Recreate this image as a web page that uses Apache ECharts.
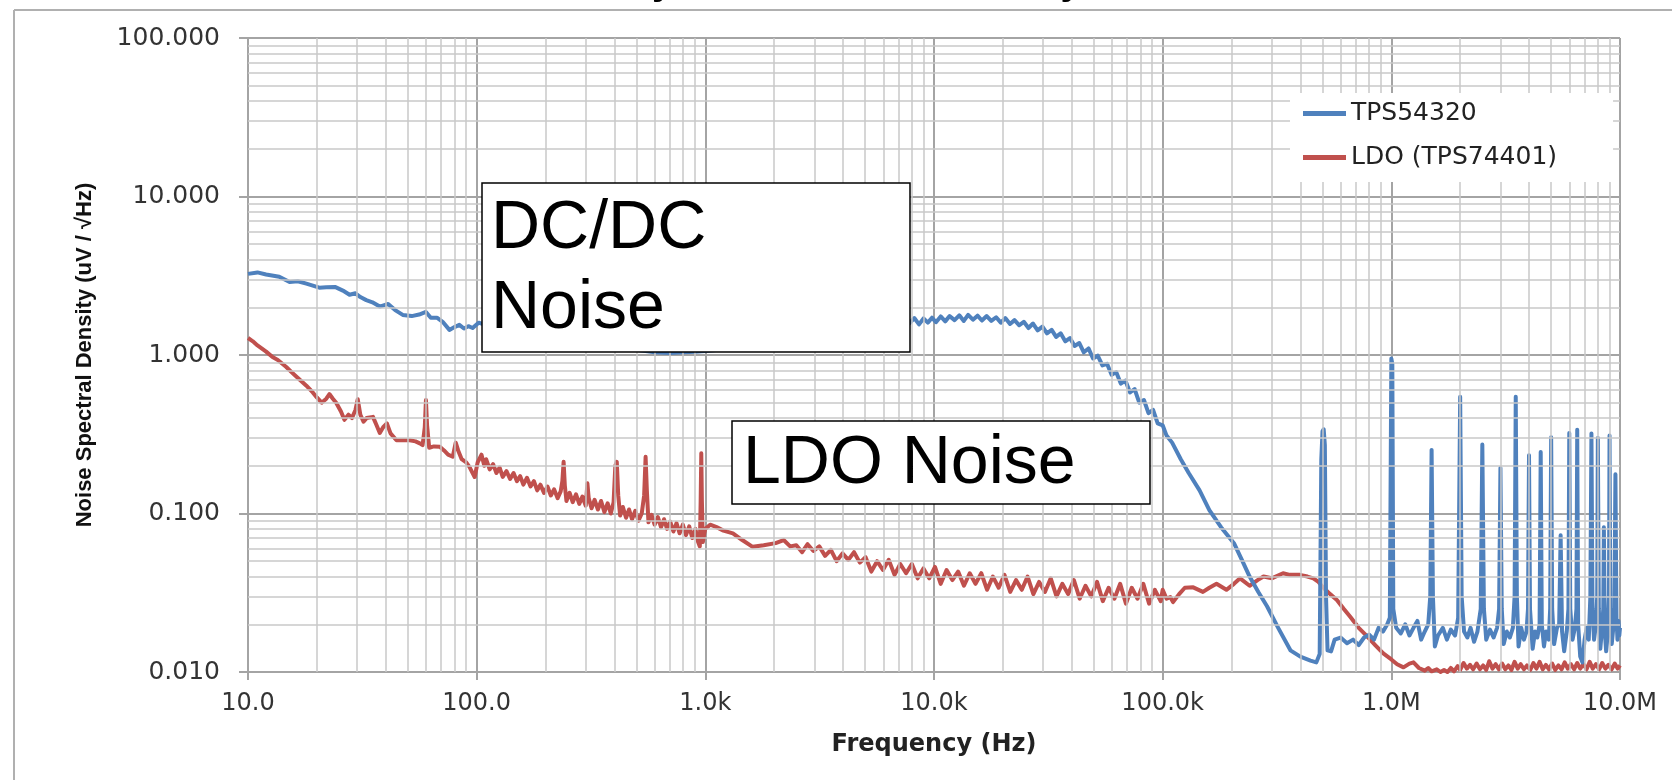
<!DOCTYPE html>
<html>
<head>
<meta charset="utf-8">
<script src="https://cdn.jsdelivr.net/npm/echarts@6.0.0/dist/echarts.min.js"></script>
<style>
html,body{margin:0;padding:0;background:#fff;}
#chart{width:1672px;height:780px;}
</style>
</head>
<body>
<div id="chart"></div>
<script>
// ---------- data ----------
const seriesNames = ['TPS54320', 'LDO (TPS74401)'];

// TPS54320 (DC/DC) noise density: [frequency Hz, uV/sqrt(Hz)]
const tpsPoints = [
[10,3.25],[11,3.32],[12,3.22],[13.7,3.12],[15.2,2.89],[16.5,2.92],[18,2.82],[20.5,2.66],[22,2.68],[24,2.69],
[26,2.55],[27.8,2.40],[29.5,2.45],[31,2.32],[32.9,2.22],[35,2.15],[37.7,2.02],[41,2.10],[44,1.92],[47.5,1.79],
[52,1.76],[56,1.80],[60,1.87],[63,1.72],[67,1.72],[71,1.62],[76,1.44],[80,1.50],[84,1.55],[88,1.47],[92,1.52],
[96,1.48],[102,1.60],[120,1.48],[150,1.40],[200,1.32],[250,1.25],[300,1.20],[400,1.12],[500,1.08],[600,1.04],
[700,1.03],[800,1.04],[900,1.05],[1000,1.06],[1500,1.12],[2000,1.20],[3000,1.32],[4000,1.42],[5000,1.50],
[6000,1.56],[7000,1.60],
[7800,1.58],[8200,1.71],[8600,1.56],[9000,1.70],[9400,1.60],[9800,1.72],[10200,1.61],[10700,1.75],[11200,1.63],
[11700,1.76],[12300,1.66],[12900,1.78],[13500,1.64],[14100,1.79],[14800,1.67],[15500,1.77],[16200,1.65],[17000,1.76],
[17800,1.64],[18700,1.73],[19600,1.60],[20500,1.71],[21500,1.57],[22500,1.66],[23600,1.54],[24700,1.62],[25900,1.48],
[27100,1.58],[28400,1.43],[29800,1.51],[31200,1.37],[32700,1.44],[34200,1.30],[35800,1.37],[37500,1.22],[39300,1.28],
[41200,1.14],[43200,1.19],[45200,1.04],[47400,1.10],[49600,0.95],[52000,0.99],[54500,0.86],[57100,0.88],[59800,0.75],
[62600,0.78],[65600,0.66],[68700,0.69],[72000,0.58],[75400,0.61],[79000,0.50],[82800,0.52],[86700,0.43],[90800,0.45],
[95100,0.37],[100000,0.36],[104000,0.31],[110000,0.28],[120000,0.22],[130000,0.18],[145000,0.14],[160000,0.105],
[180000,0.082],[205000,0.065],[222000,0.051],[240000,0.040],[262000,0.032],[286000,0.026],[320000,0.019],
[362000,0.0137],[400000,0.0125],[443000,0.0118],[470000,0.0115],[486000,0.013],[494000,0.22],[500000,0.33],
[506000,0.34],[512000,0.27],[518000,0.03],[526000,0.0137],[545000,0.0135],[565000,0.016],[600000,0.0165],
[640000,0.0152],[680000,0.016],[720000,0.0148],[760000,0.0165],[800000,0.0172],[840000,0.016],[880000,0.019],
[920000,0.018],[960000,0.020],[985000,0.022],[1000000,0.95],[1010000,0.88],[1020000,0.025],[1050000,0.019],
[1100000,0.0175],[1150000,0.020],[1200000,0.017],[1250000,0.019],[1300000,0.021],[1350000,0.016],[1400000,0.018],
[1450000,0.020],[1480000,0.03],[1500000,0.252],[1520000,0.03],[1550000,0.0145],[1600000,0.017],[1680000,0.019],
[1750000,0.016],[1820000,0.0185],[1900000,0.017],[1960000,0.022],[2000000,0.546],[2030000,0.03],[2080000,0.018],
[2150000,0.0165],[2220000,0.019],[2300000,0.0155],[2380000,0.018],[2460000,0.025],[2500000,0.272],[2540000,0.025],
[2600000,0.016],[2700000,0.0185],[2800000,0.0165],[2900000,0.019],[2960000,0.025],[3000000,0.194],[3040000,0.025],
[3100000,0.015],[3200000,0.018],[3300000,0.0165],[3400000,0.019],[3460000,0.03],[3500000,0.546],[3540000,0.03],
[3600000,0.0145],[3700000,0.019],[3800000,0.016],[3900000,0.018],[3960000,0.025],[4000000,0.233],[4040000,0.025],
[4150000,0.014],[4250000,0.018],[4350000,0.0165],[4450000,0.02],[4500000,0.244],[4550000,0.02],[4650000,0.0145],
[4750000,0.018],[4880000,0.016],[4950000,0.025],[5000000,0.303],[5050000,0.025],[5150000,0.015],[5300000,0.019],
[5420000,0.02],[5500000,0.073],[5580000,0.018],[5700000,0.0135],[5850000,0.018],[5950000,0.025],[6000000,0.322],
[6060000,0.025],[6200000,0.016],[6350000,0.019],[6450000,0.025],[6500000,0.338],[6560000,0.02],[6700000,0.0125],
[6850000,0.0115],[7000000,0.016],[7150000,0.019],[7300000,0.016],[7420000,0.03],[7500000,0.32],[7580000,0.025],
[7700000,0.016],[7850000,0.02],[7950000,0.03],[8000000,0.30],[8080000,0.025],[8200000,0.014],[8350000,0.019],
[8450000,0.025],[8500000,0.082],[8580000,0.018],[8700000,0.0135],[8850000,0.018],[8950000,0.03],[9000000,0.31],
[9070000,0.025],[9200000,0.015],[9350000,0.019],[9450000,0.025],[9550000,0.177],[9650000,0.022],[9750000,0.016],
[9850000,0.021],[9930000,0.017],[10000000,0.019]
];

// LDO (TPS74401) noise density: [frequency Hz, uV/sqrt(Hz)]
const ldoPoints = [
[10,1.28],[10.5,1.22],[11,1.15],[12,1.05],[12.8,0.97],[13.5,0.93],[14.7,0.84],[15.5,0.78],[16.8,0.70],[18,0.64],
[19.2,0.58],[20,0.54],[21,0.50],[22,0.53],[22.7,0.567],[23.5,0.53],[24.3,0.50],[25.5,0.44],[26.4,0.39],[27.5,0.42],
[28.5,0.40],[29.5,0.45],[30.2,0.526],[31,0.42],[32,0.38],[33,0.40],[35.2,0.407],[36.5,0.36],[37.7,0.322],[39,0.35],
[40.5,0.37],[42,0.32],[44.6,0.29],[48,0.29],[51,0.29],[54,0.285],[56.4,0.277],[58,0.27],[59.3,0.35],[60,0.52],
[60.7,0.36],[62,0.26],[65,0.265],[69,0.264],[72,0.25],[75,0.235],[78.6,0.228],[81,0.28],[83,0.25],[86,0.22],
[90,0.21],[93,0.197],[96,0.18],[98,0.17],
[101,0.21],[105,0.235],[108,0.20],[110,0.22],[114,0.19],[118,0.205],[122,0.18],[126,0.195],[130,0.17],[135,0.185],
[140,0.165],[145,0.18],[150,0.16],[155,0.172],[160,0.152],[166,0.168],[172,0.148],[178,0.16],[184,0.14],[190,0.152],
[197,0.135],[204,0.148],[211,0.13],[218,0.142],[226,0.125],[233,0.138],[237,0.16],[240,0.212],[243,0.15],[247,0.12],
[255,0.135],[263,0.118],[272,0.132],[281,0.115],[290,0.128],[300,0.112],[305,0.155],[309,0.125],[318,0.108],[328,0.122],
[339,0.106],[350,0.12],[362,0.102],[374,0.116],[386,0.1],[397,0.118],[404,0.2],[410,0.212],[416,0.13],[424,0.097],
[436,0.11],[450,0.094],[464,0.106],[478,0.092],[494,0.104],[510,0.09],[527,0.1],[540,0.13],[548,0.228],[555,0.14],
[564,0.088],[582,0.098],[600,0.085],[620,0.095],[640,0.082],[660,0.092],[680,0.08],[702,0.089],[725,0.077],[748,0.087],
[772,0.075],[797,0.085],[823,0.073],[850,0.083],[877,0.07],[905,0.08],[930,0.066],[946,0.062],[954,0.12],[960,0.24],
[966,0.12],[975,0.066],[990,0.075],[1000,0.08],
[1050,0.085],[1120,0.082],[1200,0.078],[1320,0.075],[1450,0.068],[1610,0.0616],[1800,0.063],[2030,0.065],[2200,0.068],
[2350,0.062],
[2500,0.063],[2650,0.057],[2800,0.064],[2970,0.058],[3150,0.062],[3340,0.054],[3540,0.059],[3750,0.050],[3980,0.056],
[4220,0.051],[4470,0.057],[4740,0.049],[5020,0.053],[5320,0.043],[5640,0.050],[5980,0.044],[6340,0.051],[6720,0.041],
[7120,0.048],[7550,0.042],[8000,0.048],[8480,0.039],[8990,0.045],[9530,0.039],[10100,0.046],[10700,0.036],[11350,0.044],
[12030,0.038],[12750,0.043],[13520,0.035],[14330,0.042],[15190,0.036],[16100,0.042],[17070,0.033],[18090,0.040],
[19180,0.034],[20330,0.041],[21550,0.032],[22840,0.038],[24210,0.033],[25660,0.040],[27200,0.031],[28830,0.037],
[30560,0.032],[32400,0.039],[34340,0.030],[36400,0.036],[38590,0.031],[40900,0.038],[43360,0.029],[45960,0.035],
[48720,0.030],[51640,0.037],[54740,0.028],[58020,0.034],[61500,0.029],[65190,0.036],[69100,0.027],[73250,0.034],
[77640,0.029],[82300,0.036],[87240,0.027],[92470,0.033],[98020,0.028],[100000,0.033],
[104000,0.029],[108000,0.0297],[111000,0.0276],[118000,0.031],[125000,0.034],[136000,0.0342],[150000,0.032],
[160000,0.034],[172000,0.036],[190000,0.033],[205000,0.036],[218000,0.039],[240000,0.035],[260000,0.038],
[276000,0.040],[300000,0.039],[336000,0.042],[360000,0.041],[398000,0.041],[430000,0.040],[456000,0.039],
[480000,0.037],[505000,0.034],[540000,0.031],[578000,0.0285],[620000,0.025],[661000,0.0223],[720000,0.019],
[786000,0.0167],[850000,0.0148],[922000,0.0131],
[1000000,0.012],[1060000,0.0112],[1130000,0.0107],[1200000,0.0113],[1250000,0.0115],[1320000,0.0106],[1400000,0.0102],
[1450000,0.0106],[1500000,0.0101],[1580000,0.0104],[1640000,0.0100],[1700000,0.0103],[1760000,0.0100],[1820000,0.0106],
[1880000,0.0101],[1950000,0.0109],[2000000,0.0103],[2070000,0.0114],[2140000,0.0105],[2210000,0.0111],[2280000,0.0104],
[2360000,0.0113],[2440000,0.0104],[2520000,0.0110],[2600000,0.0103],[2680000,0.0117],[2770000,0.0105],[2860000,0.0112],
[2950000,0.0104],[3050000,0.0113],[3150000,0.0104],[3250000,0.0110],[3350000,0.0103],[3460000,0.0116],[3570000,0.0105],
[3680000,0.0112],[3800000,0.0104],[3920000,0.0110],[4050000,0.0103],[4180000,0.0114],[4310000,0.0105],[4450000,0.0116],
[4590000,0.0104],[4740000,0.0111],[4890000,0.0104],[5050000,0.0113],[5210000,0.0103],[5380000,0.0110],[5550000,0.0104],
[5730000,0.0115],[5910000,0.0105],[6100000,0.0112],[6300000,0.0104],[6500000,0.0114],[6700000,0.0105],[6920000,0.0112],
[7140000,0.0104],[7370000,0.0116],[7600000,0.0105],[7850000,0.0112],[8100000,0.0104],[8360000,0.0114],[8630000,0.0105],
[8900000,0.0111],[9190000,0.0104],[9480000,0.0113],[9780000,0.0105],[10000000,0.0110]
];

// axis ticks and labels
const xTickValues = [10, 100, 1000, 10000, 100000, 1000000, 10000000];
const xTickLabels = ['10.0', '100.0', '1.0k', '10.0k', '100.0k', '1.0M', '10.0M'];
const yTickValues = [0.01, 0.1, 1, 10, 100];
const yTickLabels = ['0.010', '0.100', '1.000', '10.000', '100.000'];
const minorMultipliers = [2, 3, 4, 5, 6, 7, 8, 9];

const xName = 'Frequency (Hz)';
const yName = 'Noise Spectral Density (uV / \u221AHz)';
const titleText = 'DC/DC Noise Density vs LDO Noise Density';
const annotations = ['DC/DC', 'Noise', 'LDO Noise'];

// ---------- helpers ----------
function labelFor(v, vals, labels) {
  const lv = Math.log10(v);
  for (let i = 0; i < vals.length; i++) {
    if (Math.abs(Math.log10(vals[i]) - lv) < 1e-6) return labels[i];
  }
  return '';
}
const minorX = [];
xTickValues.slice(0, -1).forEach(d => minorMultipliers.forEach(m => minorX.push({ xAxis: d * m })));
const minorY = [];
yTickValues.slice(0, -1).forEach(d => minorMultipliers.forEach(m => minorY.push({ yAxis: d * m })));

const BLUE = '#4F81BD', RED = '#C0504D';
const MAJOR = '#a4a4a4', MINOR = '#c8c8c8';

const chart = echarts.init(document.getElementById('chart'), null, { renderer: 'canvas' });
chart.setOption({
  animation: false,
  backgroundColor: '#ffffff',
  title: {
    text: titleText,
    left: 288, top: -36, padding: 0,
    textStyle: { fontFamily: 'Liberation Sans', fontWeight: 'bold', fontSize: 38.3, color: '#000' }
  },
  grid: { left: 248, right: 52, top: 38, bottom: 108, containLabel: false },
  legend: {
    data: seriesNames,
    orient: 'vertical',
    left: 1290, top: 93,
    padding: [8, 56, 12, 13],
    itemGap: 19,
    itemWidth: 43, itemHeight: 5,
    icon: 'rect',
    backgroundColor: '#ffffff',
    z: 6,
    textStyle: { fontFamily: 'DejaVu Sans', fontSize: 25, color: '#222' }
  },
  xAxis: {
    type: 'log', logBase: 10, min: 10, max: 10000000, splitNumber: 6,
    name: xName, nameLocation: 'middle', nameGap: 61,
    nameTextStyle: { fontFamily: 'DejaVu Sans', fontWeight: 'bold', fontSize: 24, color: '#222' },
    axisLine: { show: true, lineStyle: { color: MAJOR, width: 2 } },
    axisTick: { show: true, length: 8, lineStyle: { color: MAJOR, width: 2 } },
    axisLabel: {
      margin: 20, fontFamily: 'DejaVu Sans', fontSize: 24, color: '#333',
      formatter: v => labelFor(v, xTickValues, xTickLabels)
    },
    splitLine: { show: true, lineStyle: { color: MAJOR, width: 2 } },
    minorTick: { show: false }, minorSplitLine: { show: false }
  },
  yAxis: {
    type: 'log', logBase: 10, min: 0.01, max: 100, splitNumber: 4,
    name: yName, nameLocation: 'middle', nameGap: 152,
    nameTextStyle: { fontFamily: 'Liberation Sans', fontWeight: 'bold', fontSize: 22, color: '#111' },
    axisLine: { show: true, lineStyle: { color: MAJOR, width: 2 } },
    axisTick: { show: true, length: 9, lineStyle: { color: MAJOR, width: 2 } },
    axisLabel: {
      margin: 28, fontFamily: 'DejaVu Sans', fontSize: 25, color: '#333',
      formatter: v => labelFor(v, yTickValues, yTickLabels)
    },
    splitLine: { show: true, lineStyle: { color: MAJOR, width: 2 } },
    minorTick: { show: false }, minorSplitLine: { show: false }
  },
  graphic: [
    { type: 'line', z: 0, shape: { x1: 14, y1: 10, x2: 14, y2: 780 }, style: { stroke: '#b0b0b0', lineWidth: 2 } },
    { type: 'line', z: 0, shape: { x1: 14, y1: 10, x2: 1672, y2: 10 }, style: { stroke: '#b0b0b0', lineWidth: 2 } },
    { type: 'rect', z: 5, shape: { x: 1290, y: 93, width: 326, height: 86 }, style: { fill: '#ffffff', stroke: null } },
    { type: 'rect', z: 20, shape: { x: 482, y: 183, width: 428, height: 169 }, style: { fill: '#fff', stroke: '#000', lineWidth: 1.5 } },
    { type: 'text', z: 21, x: 491, y: 195, style: { text: annotations[0], font: '68px "Liberation Sans", Arial, sans-serif', fill: '#000', verticalAlign: 'top' } },
    { type: 'text', z: 21, x: 491, y: 275, style: { text: annotations[1], font: '68px "Liberation Sans", Arial, sans-serif', fill: '#000', verticalAlign: 'top' } },
    { type: 'rect', z: 20, shape: { x: 732, y: 421, width: 418, height: 83 }, style: { fill: '#fff', stroke: '#000', lineWidth: 1.5 } },
    { type: 'text', z: 21, x: 743, y: 430, style: { text: annotations[2], font: '68px "Liberation Sans", Arial, sans-serif', fill: '#000', verticalAlign: 'top' } }
  ],
  series: [
    {
      name: 'minor-grid', type: 'line', data: [], z: 1, silent: true,
      markLine: {
        silent: true, symbol: ['none', 'none'], animation: false,
        label: { show: false },
        lineStyle: { color: MINOR, width: 1.5, type: 'solid' },
        emphasis: { disabled: true },
        data: minorX.concat(minorY)
      }
    },
    {
      name: seriesNames[1], type: 'line', data: ldoPoints, z: 3,
      showSymbol: false, symbol: 'none',
      lineStyle: { color: RED, width: 4, join: 'round' }, itemStyle: { color: RED }
    },
    {
      name: seriesNames[0], type: 'line', data: tpsPoints, z: 4,
      showSymbol: false, symbol: 'none',
      lineStyle: { color: BLUE, width: 4, join: 'round' }, itemStyle: { color: BLUE }
    }
  ]
});
</script>
</body>
</html>
